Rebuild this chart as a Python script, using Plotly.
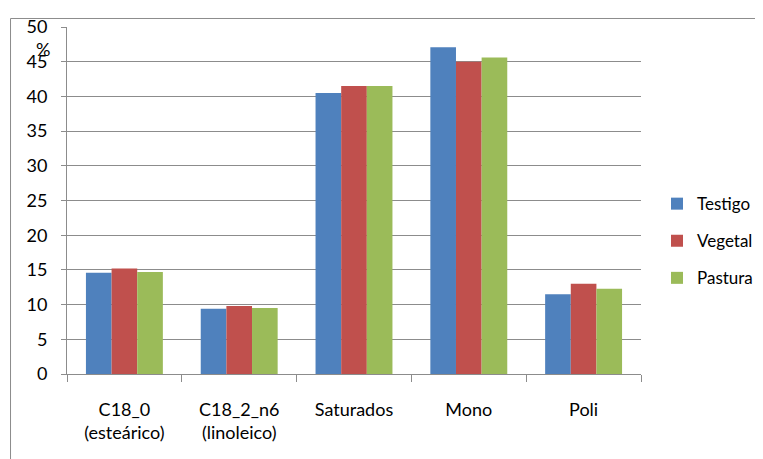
import plotly.graph_objects as go

categories = ["C18_0<br>(esteárico)", "C18_2_n6<br>(linoleico)", "Saturados", "Mono", "Poli"]
testigo = [14.6, 9.4, 40.5, 47.1, 11.5]
vegetal = [15.2, 9.8, 41.5, 45.0, 13.0]
pastura = [14.7, 9.5, 41.5, 45.6, 12.3]
y_ticks = [0, 5, 10, 15, 20, 25, 30, 35, 40, 45, 50]

series = [("Testigo", testigo, "#4F81BD"), ("Vegetal", vegetal, "#C0504D"), ("Pastura", pastura, "#9BBB59")]

fig = go.Figure()
for name, vals, col in series:
    fig.add_trace(go.Bar(x=categories, y=vals, name=name, marker=dict(color=col, line=dict(width=0)),
                         legendgroup=name))

font = "Lato, 'Open Sans', sans-serif"
fig.update_layout(
    width=763, height=459,
    margin=dict(l=59, r=130, t=19, b=93, autoexpand=False),
    paper_bgcolor="white", plot_bgcolor="white",
    barmode="group", bargap=0.33, bargroupgap=0,
    font=dict(family=font, size=18, color="#000000"),
    showlegend=True,
    legend=dict(x=(657 - 67) / 574, y=0.383, xanchor="left", yanchor="middle", font=dict(size=17),
                tracegroupgap=12, bgcolor="rgba(0,0,0,0)"),
    xaxis=dict(showline=True, linecolor="#8c8c8c", linewidth=1, ticks="outside", tickson="boundaries",
               ticklen=7, tickcolor="#8c8c8c", showgrid=False, tickfont=dict(size=18),
               automargin=False, ticklabelstandoff=19),
    yaxis=dict(range=[0, 50], tickvals=y_ticks, showline=True, linecolor="#8c8c8c", linewidth=1,
               ticks="outside", ticklen=5, tickcolor="#8c8c8c", showgrid=True, gridcolor="#8c8c8c",
               gridwidth=1, zeroline=False, tickfont=dict(size=18), automargin=False,
               ticklabelstandoff=10),
    shapes=[dict(type="rect", xref="paper", yref="paper", x0=-0.0984, y0=-0.4, x1=1.4, y1=1.0245,
                 line=dict(color="#8c8c8c", width=1), fillcolor="rgba(0,0,0,0)")],
    annotations=[dict(text="%", xref="paper", yref="paper", x=(43 - 67) / 574, y=(374 - 49) / 347,
                      showarrow=False, font=dict(size=18), xanchor="center", yanchor="middle")],
)

fig.write_html("out.html")
